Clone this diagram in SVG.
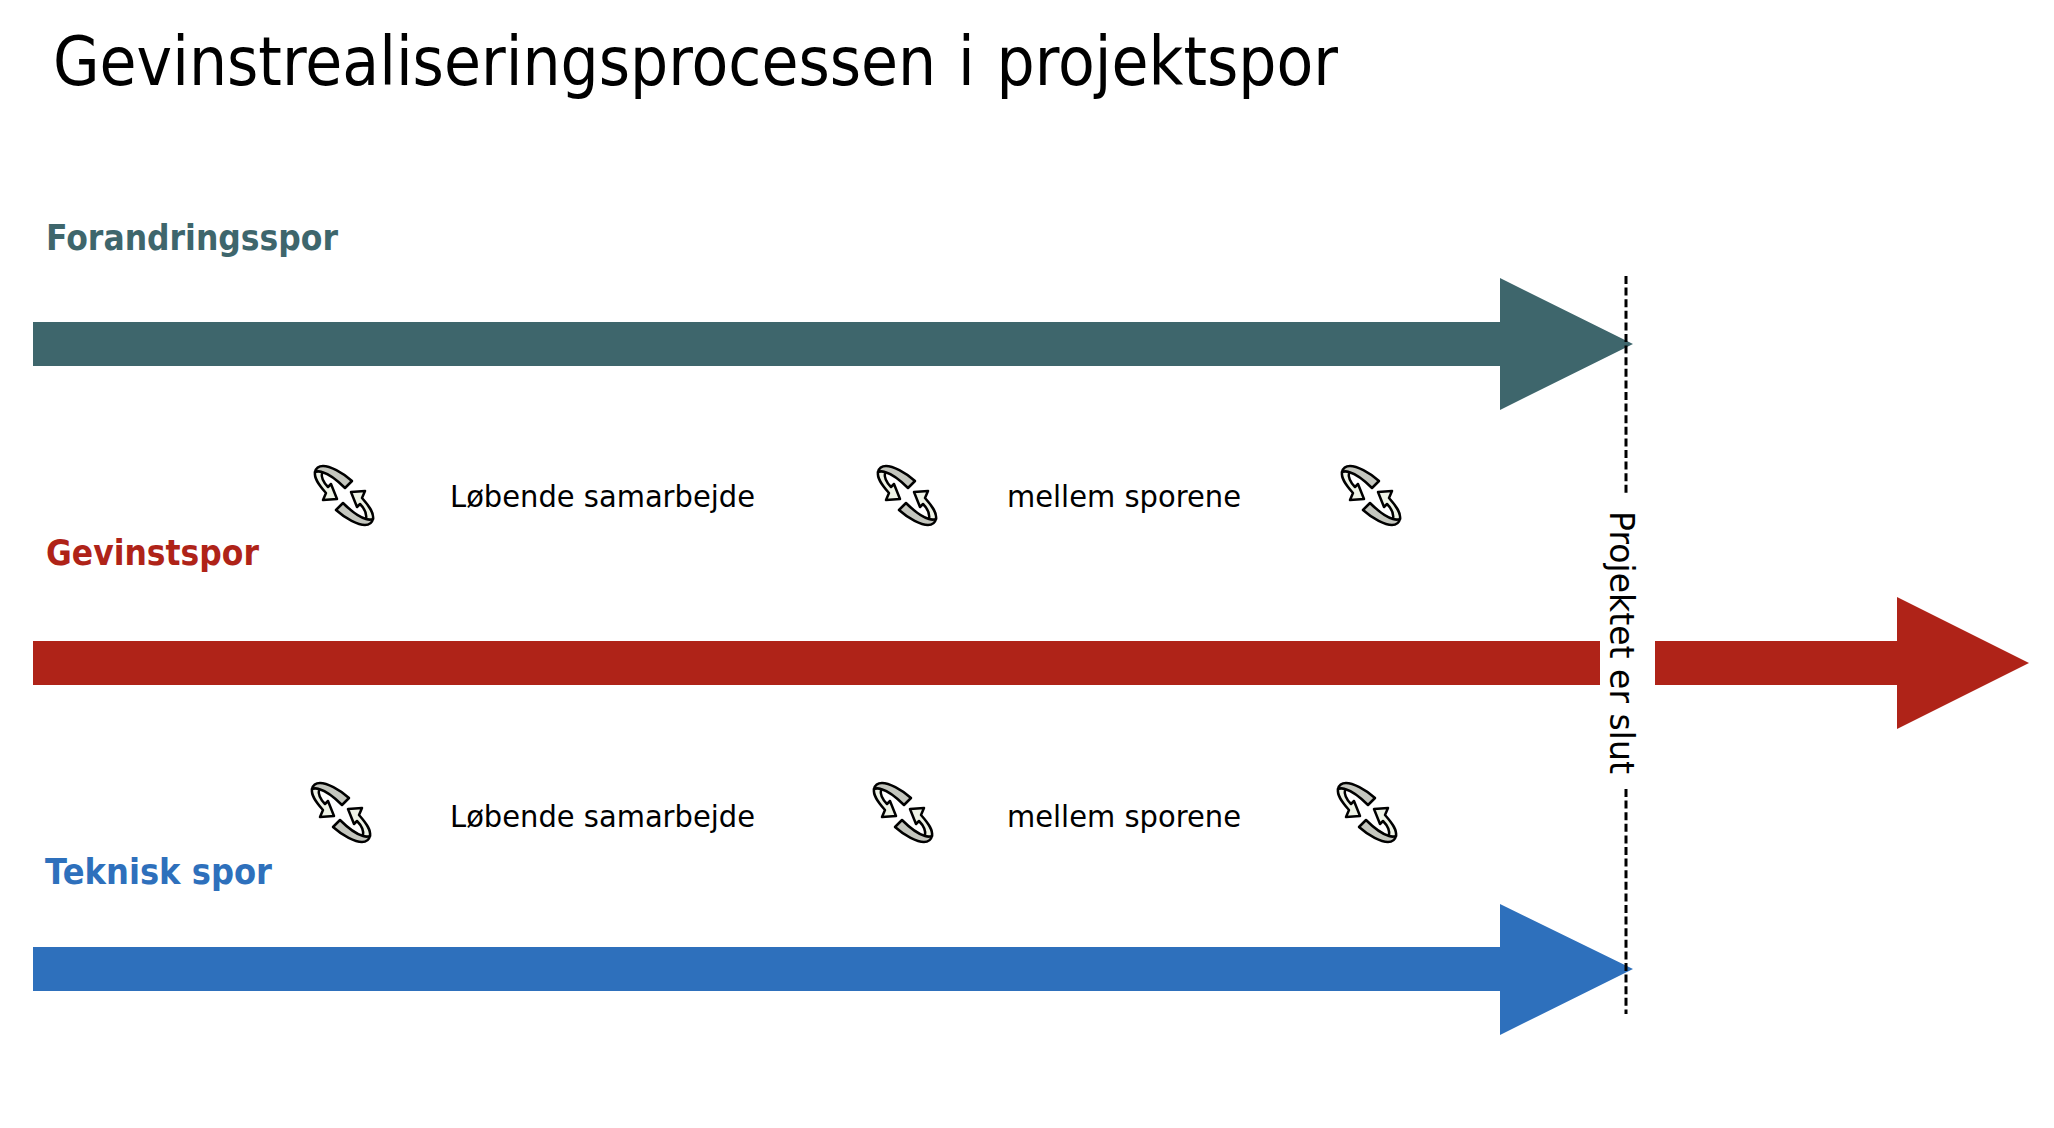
<svg xmlns="http://www.w3.org/2000/svg" width="2054" height="1128" viewBox="0 0 2054 1128">
<style>
text{font-family:"DejaVu Sans","Liberation Sans",sans-serif;fill:#000}
.t{font-size:31px}
.l{font-size:35px;font-weight:700}
.d{fill:none;stroke:#000;stroke-width:3;stroke-dasharray:8 3.6}
.o{stroke:#000;stroke-width:2.5;stroke-linejoin:round}
</style>
<defs>
<g id="half">
<path class="o" fill="#eef3e6" d="M25 32C24 38 28 44 36 53L33 60L47 59L41 44L38 47C34 43 31 37 32 32C29 31 27 31 25 32Z"/>
<path class="o" fill="#c4c6be" d="M62 41C52 32 40 26 33 26C29 26 26 28 25 32C27 31 29 31 32 32C39 34 48 41 55 48Z"/>
</g>
<g id="cyc">
<use href="#half"/>
<use href="#half" transform="rotate(180 54 55.5)"/>
</g>
</defs>
<g id="title"><text x="53" y="85" font-size="68" style="word-spacing:3px" textLength="1285" lengthAdjust="spacingAndGlyphs">Gevinstrealiseringsprocessen i projektspor</text></g>
<g id="connectors">
<path id="track-forandring" fill="#3e666c" d="M33 322H1500V278L1633 344L1500 410V366H33Z"/>
<path id="track-gevinst-a" fill="#af2318" d="M33 641H1600V685H33Z"/>
<path id="track-gevinst-b" fill="#af2318" d="M1655 641H1897V597L2029 663L1897 729V685H1655Z"/>
<path id="track-teknisk" fill="#2e70bc" d="M33 947H1500V904L1633 969L1500 1035V991H33Z"/>
<path class="d" d="M1626 276V493"/>
<path class="d" d="M1626 789V1014"/>
</g>
<g id="label-forandring"><text class="l" x="46" y="250" style="fill:#3e666c" textLength="292" lengthAdjust="spacingAndGlyphs">Forandringsspor</text></g>
<g id="label-gevinst"><text class="l" x="46" y="565" style="fill:#af2318" textLength="213" lengthAdjust="spacingAndGlyphs">Gevinstspor</text></g>
<g id="label-teknisk"><text class="l" x="45" y="884" style="fill:#2e70bc" textLength="227" lengthAdjust="spacingAndGlyphs">Teknisk spor</text></g>
<g id="note-1"><text class="t" x="450" y="507" textLength="305" lengthAdjust="spacingAndGlyphs">Løbende samarbejde</text></g>
<g id="note-2"><text class="t" x="1007" y="507" textLength="234" lengthAdjust="spacingAndGlyphs">mellem sporene</text></g>
<g id="note-3"><text class="t" x="450" y="827" textLength="305" lengthAdjust="spacingAndGlyphs">Løbende samarbejde</text></g>
<g id="note-4"><text class="t" x="1007" y="827" textLength="234" lengthAdjust="spacingAndGlyphs">mellem sporene</text></g>
<g id="end-label"><text transform="translate(1610 511) rotate(90)" font-size="34" textLength="263" lengthAdjust="spacingAndGlyphs">Projektet er slut</text></g>
<g id="icon-1"><use href="#cyc" x="290" y="440"/></g>
<g id="icon-2"><use href="#cyc" x="853" y="440"/></g>
<g id="icon-3"><use href="#cyc" x="1317" y="440"/></g>
<g id="icon-4"><use href="#cyc" x="287" y="757"/></g>
<g id="icon-5"><use href="#cyc" x="849" y="757"/></g>
<g id="icon-6"><use href="#cyc" x="1313" y="757"/></g>
</svg>
